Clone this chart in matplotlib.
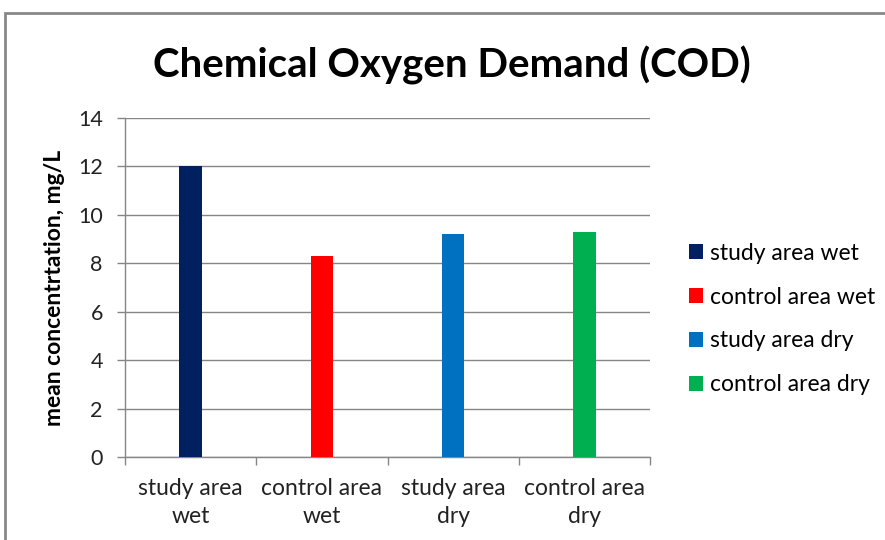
import numpy as np
import matplotlib.pyplot as plt
from matplotlib.patches import Rectangle

categories = ["study area\nwet", "control area\nwet", "study area\ndry", "control area\ndry"]
series = ["study area wet", "control area wet", "study area dry", "control area dry"]
values = [12.0, 8.3, 9.23, 9.28]
colors = ["#002060", "#ff0000", "#0070c0", "#00b050"]

plt.rcParams['font.family'] = ['Lato', 'DejaVu Sans']

fig = plt.figure(figsize=(8.85, 5.4), dpi=100)
ax = fig.add_axes([125/885, 1-457/540, (650-125)/885, (457-118)/540])

x = np.arange(len(values))
for i in range(len(values)):
    ax.bar(x[i], values[i], width=0.17, color=colors[i], label=series[i], zorder=3)

ax.set_xlim(-0.5, 3.5)
ax.set_ylim(0, 14)
ax.set_yticks(range(0, 15, 2))
ax.set_xticks(x)
ax.set_xticklabels(categories, fontsize=16.5, color='#222222', linespacing=1.45)
ax.set_xticks(np.arange(-0.5, 4, 1), minor=True)
ax.tick_params(axis='x', which='major', length=0, pad=15)
ax.tick_params(axis='x', which='minor', length=6, color='#868686', width=1)
ax.tick_params(axis='y', length=6, color='#868686', width=1, labelsize=15.5, labelcolor='#222222', pad=10)
ax.grid(axis='y', color='#868686', linewidth=1, zorder=0)
for s in ['top', 'right']:
    ax.spines[s].set_visible(False)
for s in ['left', 'bottom']:
    ax.spines[s].set_color('#868686')
    ax.spines[s].set_linewidth(1)

ax.set_ylabel("mean concentrtation, mg/L", fontsize=16.5, fontweight='bold', labelpad=9)

fig.text(452/885, 1-65/540, "Chemical Oxygen Demand (COD)", fontsize=29, fontweight='bold',
         ha='center', va='center')

ax.legend(loc='center left', bbox_to_anchor=(678/885, 1-319/540), bbox_transform=fig.transFigure,
          frameon=False, fontsize=16.5, handlelength=0.6, handleheight=0.6, handletextpad=0.3,
          labelspacing=1.0, borderpad=0)

fig.patches.append(Rectangle((5/885, -0.1), 1.2, 1-13/540+0.1, transform=fig.transFigure,
                             fill=False, edgecolor='#888888', linewidth=2))

fig.savefig("out.png", dpi=100)
